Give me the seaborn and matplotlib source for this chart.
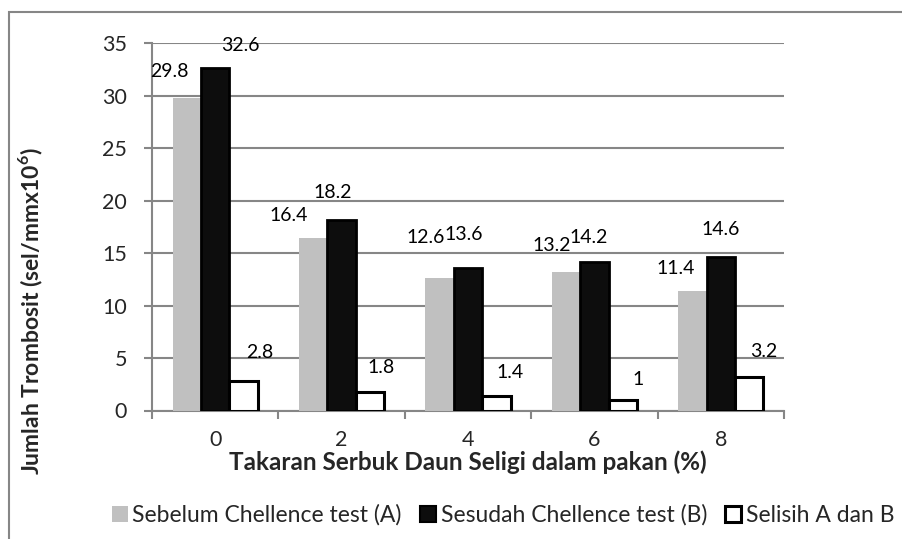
import numpy as np
import pandas as pd
import matplotlib.pyplot as plt
import matplotlib.patches as mpatches
import seaborn as sns

sns.set_style("white")
plt.rcParams['font.family'] = ['Lato', 'DejaVu Sans']
plt.rcParams['mathtext.fontset'] = 'custom'
plt.rcParams['mathtext.rm'] = 'Lato'
plt.rcParams['mathtext.bf'] = 'Lato:bold'

# data
takaran = ["0", "2", "4", "6", "8"]
sebelum = [29.8, 16.4, 12.6, 13.2, 11.4]
sesudah = [32.6, 18.2, 13.6, 14.2, 14.6]
selisih = [2.8, 1.8, 1.4, 1.0, 3.2]
seri = ["Sebelum Chellence test (A)", "Sesudah Chellence test (B)", "Selisih A dan B"]
label_teks = [["29.8", "16.4", "12.6", "13.2", "11.4"],
              ["32.6", "18.2", "13.6", "14.2", "14.6"],
              ["2.8", "1.8", "1.4", "1", "3.2"]]

# label offsets (pixels, from top centre of each bar) - labels were moved by hand
label_dx = [[-17, -25, -14, -14, -17],
            [25, -9, -4, -6, 0],
            [16, 11, 14, 15, 15]]
label_dy = [[26, 23, 41, 27, 22],
            [23, 27, 33, 24, 28],
            [29, 24, 23, 21, 25]]

df = pd.DataFrame({
    "Takaran": takaran * 3,
    "Nilai": sebelum + sesudah + selisih,
    "Seri": [seri[0]] * 5 + [seri[1]] * 5 + [seri[2]] * 5,
})

fig = plt.figure(figsize=(9.03, 5.39), dpi=100)
ax = fig.add_axes([152 / 903, 1 - 410.5 / 539, 632 / 903, 367.2 / 539])

face = ["#c0c0c0", "#0d0d0d", "#ffffff"]
edge = ["#c0c0c0", "#000000", "#000000"]
lws = [0, 2.0, 2.2]

sns.barplot(data=df, x="Takaran", y="Nilai", hue="Seri", hue_order=seri,
            palette=face, width=0.675, saturation=1, ax=ax, legend=False)

for i, cont in enumerate(ax.containers):
    for j, bar in enumerate(cont):
        bar.set_facecolor(face[i])
        bar.set_edgecolor(edge[i])
        bar.set_linewidth(lws[i])
        bar.set_zorder(3)
        x = bar.get_x() + bar.get_width() / 2
        y = bar.get_height()
        ax.annotate(label_teks[i][j], (x, y),
                    xytext=(label_dx[i][j], label_dy[i][j]),
                    textcoords="offset pixels", ha="center", va="center",
                    fontsize=14, color="black", zorder=5)

grid_col = "#868686"
ax.set_ylim(0, 35)
ax.set_xlim(-0.5, 4.5)
ax.set_yticks(np.arange(0, 36, 5))
ax.yaxis.grid(True, color=grid_col, linewidth=1.5, zorder=0)
ax.set_axisbelow(True)
for s in ["top", "right"]:
    ax.spines[s].set_visible(False)
for s in ["left", "bottom"]:
    ax.spines[s].set_color(grid_col)
    ax.spines[s].set_linewidth(1.5)

ax.tick_params(axis="y", length=6, width=1.5, color=grid_col, pad=12,
               labelsize=15.5, left=True)
ax.set_xticks(np.arange(-0.5, 5, 1), minor=True)
ax.tick_params(axis="x", which="minor", length=6, width=1.5, color=grid_col,
               bottom=True)
ax.tick_params(axis="x", which="major", length=0, pad=14, labelsize=15.5)

ax.set_xlabel("Takaran Serbuk Daun Seligi dalam pakan (%)", fontsize=17.5,
              fontweight="bold", labelpad=0)
ax.set_ylabel(r"Jumlah Trombosit (sel/mmx10$^{\mathbf{6}}$)", fontsize=16.5,
              fontweight="bold")
ax.yaxis.set_label_coords(-0.17, 0.27)

handles = [mpatches.Patch(facecolor=face[k], edgecolor=edge[k],
                          linewidth=[0, 1.5, 2.2][k], label=seri[k])
           for k in range(3)]
fig.legend(handles=handles, loc="center", bbox_to_anchor=(0.557, 1 - 515 / 539),
           ncol=3, frameon=False, fontsize=16.5, handlelength=0.7,
           handleheight=0.7, handletextpad=0.2, columnspacing=0.8)

# outer chart border
fig.patches.append(mpatches.Rectangle((9 / 903, -0.2), 1.2, 1.2 - 12 / 539,
                                      transform=fig.transFigure, fill=False,
                                      edgecolor=grid_col, linewidth=1.5))

fig.savefig("out.png", dpi=100)
